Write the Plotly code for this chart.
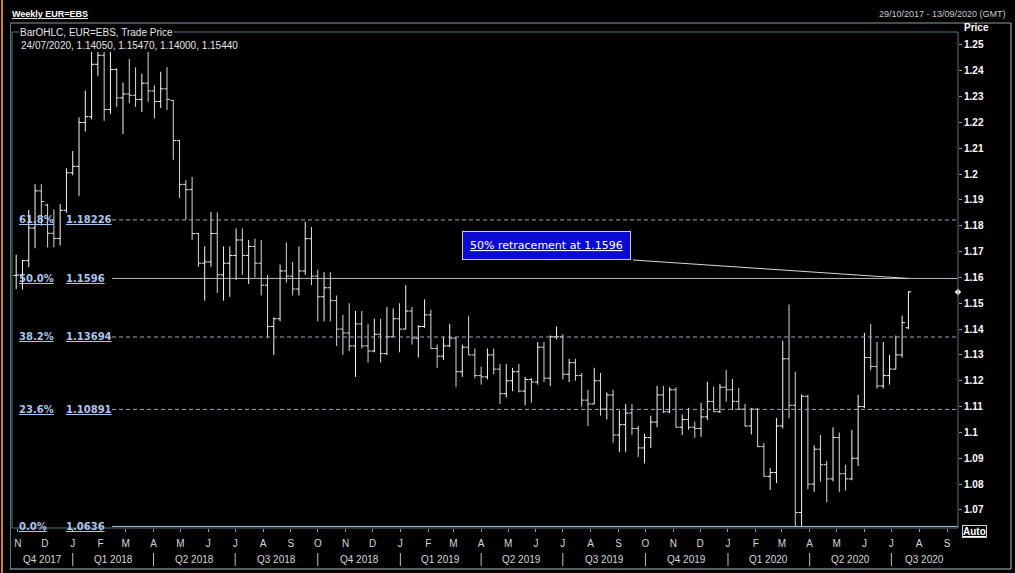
import plotly.graph_objects as go
import pandas as pd

# ---------------- data (weekly EUR=EBS bars, week starting dates) ----------------
first_week = "2017-10-30"

opens = [1.1608, 1.1609, 1.1665, 1.1791, 1.1935, 1.1880, 1.1771, 1.1751, 1.1860, 1.2005,
         1.2030, 1.2200, 1.2222, 1.2425, 1.2460, 1.2250, 1.2405, 1.2295, 1.2310, 1.2305,
         1.2289, 1.2352, 1.2322, 1.2281, 1.2330, 1.2285, 1.2130, 1.1960, 1.1940, 1.1770,
         1.1655, 1.1660, 1.1770, 1.1610, 1.1655, 1.1685, 1.1745, 1.1685, 1.1720, 1.1655,
         1.1570, 1.1410, 1.1440, 1.1625, 1.1605, 1.1555, 1.1625, 1.1750, 1.1605, 1.1525,
         1.1560, 1.1510, 1.1400, 1.1385, 1.1335, 1.1420, 1.1335, 1.1315, 1.1380, 1.1305,
         1.1370, 1.1440, 1.1400, 1.1470, 1.1365, 1.1410, 1.1455, 1.1325, 1.1295, 1.1335,
         1.1365, 1.1235, 1.1330, 1.1300, 1.1220, 1.1215, 1.1300, 1.1245, 1.1150, 1.1200,
         1.1235, 1.1160, 1.1205, 1.1195, 1.1330, 1.1210, 1.1370, 1.1370, 1.1225, 1.1270,
         1.1220, 1.1125, 1.1110, 1.1200, 1.1090, 1.1145, 1.0990, 1.1030, 1.1075, 1.1015,
         1.0940, 1.0980, 1.1040, 1.1145, 1.1080, 1.1165, 1.1020, 1.1050, 1.1020, 1.1015,
         1.1060, 1.1120, 1.1080, 1.1175, 1.1165, 1.1120, 1.1090, 1.1025, 1.1090, 1.0945,
         1.0830, 1.0845, 1.1025, 1.1285, 1.1105, 1.0690, 1.1140, 1.0800, 1.0935, 1.0875,
         1.0820, 1.0980, 1.0840, 1.0820, 1.0900, 1.1100, 1.1290, 1.1255, 1.1180, 1.1220,
         1.1245, 1.1300, 1.14050]
highs = [1.1688, 1.1667, 1.1861, 1.1961, 1.1961, 1.1885, 1.1863, 1.1884, 1.2023, 1.2089,
         1.2219, 1.2323, 1.2537, 1.2520, 1.2475, 1.2556, 1.2410, 1.2354, 1.2446, 1.2413,
         1.2389, 1.2476, 1.2344, 1.2396, 1.2414, 1.2287, 1.2132, 1.1977, 1.1989, 1.1772,
         1.1720, 1.1853, 1.1852, 1.1720, 1.1720, 1.1790, 1.1790, 1.1745, 1.1750, 1.1745,
         1.1610, 1.1445, 1.1650, 1.1735, 1.1660, 1.1720, 1.1815, 1.1795, 1.1630, 1.1620,
         1.1620, 1.1530, 1.1455, 1.1500, 1.1470, 1.1470, 1.1420, 1.1440, 1.1440, 1.1485,
         1.1480, 1.1500, 1.1570, 1.1485, 1.1415, 1.1515, 1.1475, 1.1340, 1.1370, 1.1420,
         1.1370, 1.1340, 1.1450, 1.1325, 1.1255, 1.1325, 1.1325, 1.1265, 1.1265, 1.1250,
         1.1265, 1.1215, 1.1210, 1.1350, 1.1350, 1.1375, 1.1410, 1.1380, 1.1285, 1.1285,
         1.1230, 1.1165, 1.1250, 1.1230, 1.1155, 1.1165, 1.1085, 1.1110, 1.1110, 1.1025,
         1.0995, 1.1065, 1.1180, 1.1180, 1.1175, 1.1175, 1.1070, 1.1095, 1.1042, 1.1114,
         1.1196, 1.1177, 1.1188, 1.1242, 1.1207, 1.1172, 1.1110, 1.1095, 1.1095, 1.0959,
         1.0862, 1.1056, 1.1355, 1.1495, 1.1235, 1.1147, 1.1145, 1.0950, 1.0990, 1.0890,
         1.1020, 1.1000, 1.0875, 1.1010, 1.1145, 1.1385, 1.1420, 1.1350, 1.1350, 1.1300,
         1.1375, 1.1452, 1.15470]
lows = [1.1555, 1.1553, 1.1640, 1.1713, 1.1800, 1.1716, 1.1717, 1.1723, 1.1850, 1.1995,
        1.1916, 1.2165, 1.2212, 1.2380, 1.2206, 1.2233, 1.2260, 1.2155, 1.2274, 1.2260,
        1.2240, 1.2280, 1.2215, 1.2256, 1.2248, 1.2055, 1.1908, 1.1823, 1.1745, 1.1641,
        1.1510, 1.1640, 1.1540, 1.1510, 1.1525, 1.1590, 1.1610, 1.1575, 1.1600, 1.1530,
        1.1365, 1.1300, 1.1430, 1.1580, 1.1530, 1.1530, 1.1610, 1.1570, 1.1430, 1.1430,
        1.1430, 1.1335, 1.1300, 1.1315, 1.1215, 1.1325, 1.1270, 1.1310, 1.1270, 1.1300,
        1.1370, 1.1310, 1.1400, 1.1340, 1.1290, 1.1405, 1.1325, 1.1250, 1.1280, 1.1330,
        1.1175, 1.1215, 1.1300, 1.1210, 1.1185, 1.1205, 1.1225, 1.1110, 1.1135, 1.1160,
        1.1155, 1.1105, 1.1115, 1.1185, 1.1195, 1.1180, 1.1360, 1.1205, 1.1195, 1.1200,
        1.1100, 1.1025, 1.1110, 1.1065, 1.1050, 1.0960, 1.0925, 1.0925, 1.0990, 1.0905,
        1.0880, 1.0940, 1.1020, 1.1075, 1.1075, 1.1020, 1.0990, 1.1010, 1.0979, 1.0983,
        1.1048, 1.1080, 1.1075, 1.1119, 1.1087, 1.1087, 1.1022, 1.0992, 1.0944, 1.0829,
        1.0777, 1.0804, 1.1015, 1.1055, 1.0636, 1.0636, 1.0780, 1.0770, 1.0810, 1.0730,
        1.0810, 1.0770, 1.0775, 1.0815, 1.0870, 1.1095, 1.1240, 1.1170, 1.1170, 1.1185,
        1.1245, 1.1290, 1.14000]
closes = [1.1609, 1.1665, 1.1791, 1.1935, 1.1894, 1.1771, 1.1751, 1.1860, 1.2005, 1.2030,
          1.2200, 1.2222, 1.2425, 1.2460, 1.2250, 1.2405, 1.2295, 1.2310, 1.2305, 1.2289,
          1.2352, 1.2322, 1.2281, 1.2330, 1.2289, 1.2130, 1.1960, 1.1940, 1.1770, 1.1655,
          1.1660, 1.1770, 1.1610, 1.1655, 1.1685, 1.1745, 1.1685, 1.1720, 1.1655, 1.1570,
          1.1410, 1.1440, 1.1625, 1.1605, 1.1555, 1.1625, 1.1750, 1.1605, 1.1525, 1.1560,
          1.1510, 1.1400, 1.1385, 1.1335, 1.1420, 1.1335, 1.1315, 1.1380, 1.1305, 1.1370,
          1.1440, 1.1400, 1.1470, 1.1365, 1.1410, 1.1455, 1.1325, 1.1295, 1.1335, 1.1365,
          1.1235, 1.1330, 1.1300, 1.1220, 1.1215, 1.1300, 1.1245, 1.1150, 1.1200, 1.1235,
          1.1160, 1.1205, 1.1195, 1.1330, 1.1210, 1.1370, 1.1370, 1.1225, 1.1270, 1.1220,
          1.1125, 1.1110, 1.1200, 1.1090, 1.1145, 1.0990, 1.1030, 1.1075, 1.1015, 1.0940,
          1.0980, 1.1040, 1.1145, 1.1080, 1.1165, 1.1020, 1.1050, 1.1020, 1.1015, 1.1060,
          1.1120, 1.1080, 1.1175, 1.1165, 1.1120, 1.1090, 1.1025, 1.1090, 1.0945, 1.0830,
          1.0845, 1.1025, 1.1285, 1.1105, 1.0690, 1.1140, 1.0800, 1.0935, 1.0875, 1.0820,
          1.0980, 1.0840, 1.0820, 1.0900, 1.1100, 1.1290, 1.1255, 1.1180, 1.1220, 1.1245,
          1.1300, 1.1425, 1.15440]
last_bar_label = "24/07/2020"

# Fibonacci retracement levels
fib_pcts = ["61.8%", "50.0%", "38.2%", "23.6%", "0.0%"]
fib_levels = [1.18226, 1.1596, 1.13694, 1.10891, 1.0636]
fib_texts = ["1.18226", "1.1596", "1.13694", "1.10891", "1.0636"]
fib_dash = ["dash", "solid", "dash", "dash", "solid"]

# axes
y_ticks = [1.07, 1.08, 1.09, 1.10, 1.11, 1.12, 1.13, 1.14, 1.15, 1.16, 1.17, 1.18,
           1.19, 1.20, 1.21, 1.22, 1.23, 1.24, 1.25]
y_ticktext = ["1.07", "1.08", "1.09", "1.1", "1.11", "1.12", "1.13", "1.14", "1.15", "1.16",
              "1.17", "1.18", "1.19", "1.2", "1.21", "1.22", "1.23", "1.24", "1.25"]
month_starts = pd.date_range("2017-11-01", "2020-09-01", freq="MS")
month_letters = [d.strftime("%b")[0] for d in month_starts]
quarter_names = ["Q4 2017", "Q1 2018", "Q2 2018", "Q3 2018", "Q4 2018", "Q1 2019",
                 "Q2 2019", "Q3 2019", "Q4 2019", "Q1 2020", "Q2 2020", "Q3 2020"]
quarter_starts = pd.date_range("2017-10-01", periods=len(quarter_names), freq="QS")

x_range = [pd.Timestamp("2017-10-25 08:00"), pd.Timestamp("2020-09-13 06:00")]
y_range = [1.0630, 1.2550]

dates = pd.date_range(first_week, periods=len(opens), freq="7D")

# ---------------- figure ----------------
FRAME = "#55777e"
fig = go.Figure()
fig.add_trace(go.Ohlc(
    x=dates, open=opens, high=highs, low=lows, close=closes,
    increasing=dict(line=dict(color="#f8f8f8", width=1)),
    decreasing=dict(line=dict(color="#d8d8d8", width=1)),
    tickwidth=0.45, hoverinfo="skip", showlegend=False,
))
# last price marker on the price axis
fig.add_trace(go.Scatter(
    x=[x_range[1]], y=[closes[-1]], mode="markers",
    marker=dict(symbol="diamond", size=5, color="white"),
    cliponaxis=False, hoverinfo="skip", showlegend=False,
))

shapes = []
annotations = []

def px_x(p):  # paper from pixel x
    return (p - 12) / 946.0

def px_y(p):  # paper from pixel y
    return (528 - p) / 496.0

# fib lines + labels
for pct, lvl, txt, dash in zip(fib_pcts, fib_levels, fib_texts, fib_dash):
    shapes.append(dict(type="line", xref="paper", yref="y", x0=px_x(112), x1=1,
                       y0=lvl, y1=lvl,
                       line=dict(color="#aebbd0" if dash == "solid" else "#9aa6b8",
                                 width=1, dash="solid" if dash == "solid" else "4px,3px"),
                       layer="above"))
    for xpix, t in ((17, pct), (64, txt)):
        annotations.append(dict(xref="paper", yref="y", x=px_x(xpix), y=lvl,
                                xanchor="left", yanchor="middle", showarrow=False,
                                text="<u>" + t + "</u>",
                                font=dict(family="DejaVu Sans", size=10, weight="bold",
                                          color="#a9c7ec")))

# band under the legend text (covers top of plot area)
shapes.append(dict(type="rect", xref="paper", yref="paper", x0=0, x1=1,
                   y0=px_y(52), y1=1, fillcolor="black", line=dict(width=0), layer="above"))
# plot frame
shapes.append(dict(type="rect", xref="paper", yref="paper", x0=0, x1=1, y0=0, y1=1,
                   line=dict(color=FRAME, width=1), layer="above"))
# outer panel frame
shapes.append(dict(type="line", xref="paper", yref="paper", x0=px_x(10), x1=px_x(1011),
                   y0=px_y(23), y1=px_y(23), line=dict(color="#8c9aa0", width=1)))
shapes.append(dict(type="line", xref="paper", yref="paper", x0=px_x(10.5), x1=px_x(10.5),
                   y0=px_y(23), y1=px_y(569), line=dict(color=FRAME, width=1)))
shapes.append(dict(type="line", xref="paper", yref="paper", x0=px_x(1011), x1=px_x(1011),
                   y0=px_y(23), y1=px_y(569), line=dict(color="#b8b8b8", width=1)))
shapes.append(dict(type="line", xref="paper", yref="paper", x0=px_x(10), x1=px_x(1011),
                   y0=px_y(569), y1=px_y(569), line=dict(color="#b8b8b8", width=1)))
shapes.append(dict(type="line", xref="paper", yref="paper", x0=px_x(2), x1=px_x(2),
                   y0=px_y(0), y1=px_y(573), line=dict(color="#d08040", width=2)))

# quarter labels and separators
for i, (qn, qs) in enumerate(zip(quarter_names, quarter_starts)):
    qe = qs + pd.offsets.QuarterBegin(startingMonth=1)
    a = max(qs, x_range[0])
    b = min(qe, x_range[1])
    mid = a + (b - a) / 2
    annotations.append(dict(xref="x", yref="paper", x=mid, y=px_y(559), text=qn,
                            showarrow=False, xanchor="center", yanchor="middle",
                            font=dict(family="Arial", size=10, color="#d6d6d6")))
    if i > 0:
        shapes.append(dict(type="line", xref="x", yref="paper", x0=qs, x1=qs,
                           y0=px_y(553), y1=px_y(566),
                           line=dict(color="#bdbdbd", width=1)))

# header texts
annotations += [
    dict(xref="paper", yref="paper", x=px_x(10), y=px_y(14), xanchor="left",
         yanchor="middle", showarrow=False, text="<b><u>Weekly EUR=EBS</u></b>",
         font=dict(family="Arial", size=9, color="white")),
    dict(xref="paper", yref="paper", x=px_x(1008), y=px_y(14), xanchor="right",
         yanchor="middle", showarrow=False, text="29/10/2017 - 13/09/2020 (GMT)",
         font=dict(family="Arial", size=9, color="#c8c8c8")),
    dict(xref="paper", yref="paper", x=px_x(19), y=px_y(32), xanchor="left",
         yanchor="middle", showarrow=False, text="BarOHLC, EUR=EBS, Trade Price",
         bgcolor="black", borderpad=0,
         font=dict(family="Arial", size=10, color="#e6e6e6")),
    dict(xref="paper", yref="paper", x=px_x(19), y=px_y(45), xanchor="left",
         yanchor="middle", showarrow=False,
         text="%s, %.5f, %.5f, %.5f, %.5f" % (last_bar_label, opens[-1], highs[-1],
                                             lows[-1], closes[-1]),
         font=dict(family="Arial", size=10, color="#e6e6e6")),
    dict(xref="paper", yref="paper", x=px_x(962), y=px_y(27), xanchor="left",
         yanchor="middle", showarrow=False, text="<b>Price</b>",
         font=dict(family="Arial", size=10, color="white")),
    dict(xref="paper", yref="paper", x=px_x(962), y=px_y(531), xanchor="left",
         yanchor="middle", showarrow=False, text="<b><u>Auto</u></b>",
         bordercolor="#d0d0d0", borderwidth=1, borderpad=0,
         font=dict(family="Arial", size=10, color="white")),
]

# callout box + pointer line to the 50% level at the last bar
box_x, box_y = px_x(546.5), px_y(246)
annotations.append(dict(xref="paper", yref="paper", x=box_x, y=box_y,
                        xanchor="center", yanchor="middle", showarrow=False,
                        text="<u>50% retracement at " + fib_texts[1] + "</u>",
                        bgcolor="#0a0ad0", bordercolor="#c8c8ff", borderwidth=1,
                        borderpad=7,
                        font=dict(family="DejaVu Sans", size=11, color="white")))
span = x_range[1] - x_range[0]
start_x = x_range[0] + span * px_x(633)
start_y = y_range[0] + (y_range[1] - y_range[0]) * px_y(260)
shapes.append(dict(type="line", xref="x", yref="y", x0=start_x, y0=start_y,
                   x1=dates[-1], y1=fib_levels[1],
                   line=dict(color="#d8d8d8", width=1), layer="above"))

fig.update_layout(
    width=1015, height=573,
    margin=dict(l=12, r=57, t=32, b=45),
    paper_bgcolor="black", plot_bgcolor="black",
    shapes=shapes, annotations=annotations,
    showlegend=False,
    xaxis=dict(type="date", range=x_range, rangeslider=dict(visible=False),
               showgrid=False, zeroline=False, showline=False,
               tickvals=month_starts, ticktext=month_letters,
               ticks="outside", ticklen=3, tickcolor="#9a9a9a",
               ticklabelstandoff=3,
               tickfont=dict(family="Arial", size=10, color="#d6d6d6")),
    yaxis=dict(side="right", range=y_range, showgrid=False, zeroline=False,
               showline=False, tickvals=y_ticks, ticktext=y_ticktext,
               ticks="outside", ticklen=3, tickcolor="#9a9a9a",
               tickfont=dict(family="Arial", size=10, color="white", weight="bold")),
)

fig.write_html("out.html",
               config={"displayModeBar": False},
               post_script="document.body.style.margin='0';"
                           "document.body.style.background='black';"
                           "document.body.style.overflow='hidden';")
